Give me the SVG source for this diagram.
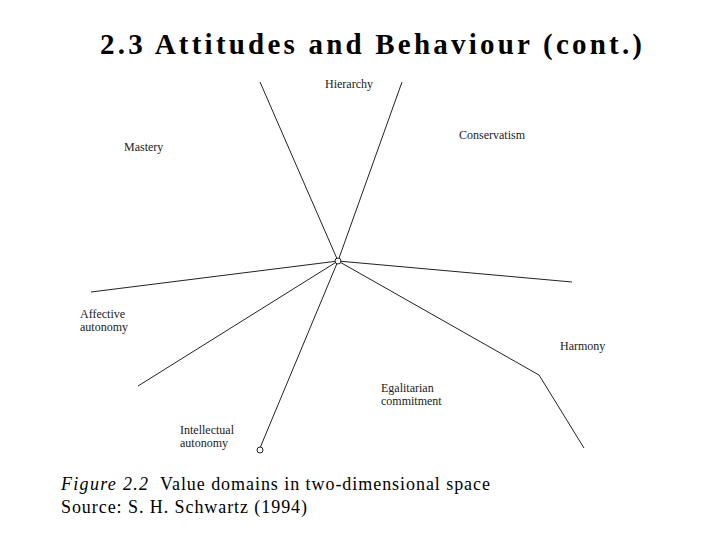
<svg xmlns="http://www.w3.org/2000/svg" width="720" height="540" viewBox="0 0 720 540">
<style>
.t{font-family:"Liberation Serif",serif;fill:#000}
.l{font-family:"Liberation Serif",serif;font-size:12px;fill:#222}
.c{stroke:#222;stroke-width:1;fill:none}
</style>
<rect width="720" height="540" fill="#fff"/>
<text class="t" x="100" y="54" font-size="29" font-weight="bold" textLength="542" lengthAdjust="spacing">2.3 Attitudes and Behaviour (cont.)</text>
<g id="connectors">
<path class="c" d="M338,261 L260,82"/>
<path class="c" d="M338,261 L402,82"/>
<path class="c" d="M338,261 L91,292"/>
<path class="c" d="M338,261 L572,282"/>
<path class="c" d="M338,261 L138,386"/>
<path class="c" d="M338,261 L260,448"/>
<path class="c" d="M338,261 L539,375 L584,448"/>
</g>
<g id="center"><circle cx="338" cy="261" r="3" fill="#fff" stroke="#222"/></g>
<g id="endpoint"><circle cx="260" cy="450" r="3" fill="#fff" stroke="#222"/></g>
<g id="hierarchy"><text class="l" x="325" y="88">Hierarchy</text></g>
<g id="conservatism"><text class="l" x="459" y="139">Conservatism</text></g>
<g id="mastery"><text class="l" x="124" y="151">Mastery</text></g>
<g id="affective"><text class="l" x="80" y="318">Affective</text><text class="l" x="80" y="331">autonomy</text></g>
<g id="harmony"><text class="l" x="560" y="350">Harmony</text></g>
<g id="egalitarian"><text class="l" x="381" y="392">Egalitarian</text><text class="l" x="381" y="405">commitment</text></g>
<g id="intellectual"><text class="l" x="180" y="434">Intellectual</text><text class="l" x="180" y="447">autonomy</text></g>
<text class="t" x="61" y="490" font-size="18" font-style="italic" textLength="87">Figure 2.2</text>
<text class="t" x="160" y="490" font-size="18" textLength="330">Value domains in two-dimensional space</text>
<text class="t" x="61" y="513" font-size="18" textLength="246">Source: S. H. Schwartz (1994)</text>
</svg>
